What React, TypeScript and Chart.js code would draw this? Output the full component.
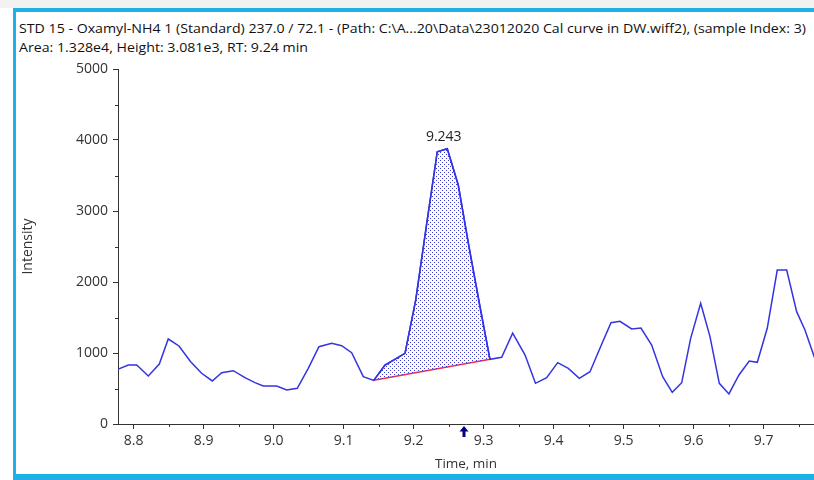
import React, { useEffect, useRef } from "react";
import { Chart, registerables } from "chart.js";

Chart.register(...registerables);

const headerLine1 =
  "STD 15 - Oxamyl-NH4 1 (Standard) 237.0 / 72.1 - (Path: C:\\A...20\\Data\\23012020 Cal curve in DW.wiff2), (sample Index: 3)";
const headerLine2 = "Area: 1.328e4, Height: 3.081e3, RT: 9.24 min";

const timeMin = [
  8.776, 8.7923, 8.8043, 8.8209, 8.8366, 8.8494, 8.8647, 8.8814, 8.8971, 8.9123,
  8.9257, 8.9423, 8.959, 8.9733, 8.9851, 9.0043, 9.0186, 9.0337, 9.0494, 9.0647,
  9.0829, 9.0971, 9.1114, 9.128, 9.143, 9.159, 9.173, 9.1876, 9.2029, 9.218,
  9.2337, 9.248, 9.2637, 9.279, 9.2943, 9.309, 9.3257, 9.3414, 9.359, 9.374,
  9.39, 9.4057, 9.4209, 9.4366, 9.4519, 9.4661, 9.4819, 9.4947, 9.5114, 9.5247,
  9.54, 9.5557, 9.5694, 9.5829, 9.5957, 9.61, 9.6233, 9.6366, 9.6504, 9.6647,
  9.6794, 9.6909, 9.7051, 9.7194, 9.7329, 9.7471, 9.759, 9.7728, 9.787,
];
const intensity = [
  765, 831, 831, 676, 845, 1197, 1099, 878, 714, 606,
  723, 751, 652, 582, 535, 535, 479, 502, 784, 1089,
  1136, 1103, 1005, 667, 615, 831, 911, 996, 1746, 2779,
  3835, 3877, 3366, 2497, 1676, 911, 939, 1280, 975, 573,
  652, 864, 784, 643, 737, 1066, 1427, 1446, 1338, 1352,
  1113, 667, 446, 582, 1207, 1700, 1230, 573, 423, 690,
  887, 869, 1348, 2169, 2169, 1582, 1324, 930, 700,
];

const peakStart = 9.143;
const peakEnd = 9.309;
const baselineTimes = [9.143, 9.309];
const baselineValues = [615, 911];
const peakLabel = "9.243";
const peakLabelTime = 9.243;
const peakApexValue = 3877;
const expectedRT = 9.2718;

const xMin = 8.7776;
const xMax = 9.7719;
const xTicksMajor = [8.8, 8.9, 9.0, 9.1, 9.2, 9.3, 9.4, 9.5, 9.6, 9.7];
const xTicksMinor = [8.85, 8.95, 9.05, 9.15, 9.25, 9.35, 9.45, 9.55, 9.65, 9.75];
const yTicksMajor = [0, 1000, 2000, 3000, 4000, 5000];
const yTicksMinor = [500, 1500, 2500, 3500, 4500];

const FONT = "'Open Sans', 'Noto Sans', sans-serif";
const CYAN = "#1fb1e6";
const TRACE = "#3434e0";
const AXIS = "#333333";

export default function App() {
  const ref = useRef<HTMLCanvasElement | null>(null);

  useEffect(() => {
    if (!ref.current) return;

    const pc = document.createElement("canvas");
    pc.width = 4;
    pc.height = 4;
    const pctx = pc.getContext("2d")!;
    pctx.fillStyle = "#3a3ad8";
    pctx.fillRect(0, 0, 1, 1);
    pctx.fillRect(2, 2, 1, 1);
    const pattern = pctx.createPattern(pc, "repeat");

    const trace = timeMin.map((t, i) => ({ x: t, y: intensity[i] }));
    const peak = trace.filter((p) => p.x >= peakStart - 1e-6 && p.x <= peakEnd + 1e-6);
    const baseline = baselineTimes.map((t, i) => ({ x: t, y: baselineValues[i] }));

    const extras = {
      id: "extras",
      afterDraw(chart: any) {
        const { ctx } = chart;
        const x = chart.scales.x;
        const y = chart.scales.y;
        ctx.save();
        ctx.strokeStyle = AXIS;
        ctx.lineWidth = 1;
        yTicksMinor.forEach((v) => {
          const py = Math.round(y.getPixelForValue(v)) + 0.5;
          ctx.beginPath();
          ctx.moveTo(x.left - 3, py);
          ctx.lineTo(x.left, py);
          ctx.stroke();
        });
        xTicksMinor.forEach((v) => {
          const px = Math.round(x.getPixelForValue(v)) + 0.5;
          ctx.beginPath();
          ctx.moveTo(px, y.bottom);
          ctx.lineTo(px, y.bottom + 3);
          ctx.stroke();
        });
        // peak label
        ctx.fillStyle = "#222";
        ctx.font = `14px ${FONT}`;
        ctx.textAlign = "center";
        ctx.textBaseline = "middle";
        ctx.fillText(
          peakLabel,
          x.getPixelForValue(peakLabelTime),
          y.getPixelForValue(peakApexValue) - 12
        );
        // expected RT arrow
        const ax = Math.round(x.getPixelForValue(expectedRT));
        const by = y.bottom;
        ctx.fillStyle = "#000080";
        ctx.beginPath();
        ctx.moveTo(ax, by + 2);
        ctx.lineTo(ax + 4.5, by + 7.5);
        ctx.lineTo(ax - 4.5, by + 7.5);
        ctx.closePath();
        ctx.fill();
        ctx.fillRect(ax - 1.5, by + 7, 3, 6);
        ctx.restore();
      },
    };

    const chart = new Chart(ref.current, {
      type: "line",
      data: {
        datasets: [
          {
            data: trace,
            borderColor: TRACE,
            borderWidth: 1.5,
            pointRadius: 0,
            fill: false,
            tension: 0,
          },
          {
            data: peak,
            borderColor: TRACE,
            borderWidth: 1.5,
            pointRadius: 0,
            backgroundColor: pattern as any,
            fill: "+1",
            tension: 0,
          },
          {
            data: baseline,
            borderColor: "#ff2a2a",
            borderWidth: 1.5,
            pointRadius: 0,
            fill: false,
          },
        ],
      },
      options: {
        animation: false,
        responsive: false,
        devicePixelRatio: 1,
        events: [],
        layout: { padding: { top: 57, left: 0, right: 0, bottom: 0 } },
        plugins: {
          legend: { display: false },
          tooltip: { enabled: false },
        },
        scales: {
          x: {
            type: "linear",
            min: xMin,
            max: xMax,
            afterFit: (s: any) => {
              s.height = 50;
            },
            afterBuildTicks: (s: any) => {
              s.ticks = xTicksMajor.map((v) => ({ value: v }));
            },
            ticks: {
              includeBounds: false,
              autoSkip: false,
              maxRotation: 0,
              padding: 4,
              color: "#333",
              font: { family: FONT, size: 14 },
              callback: (v: any) => Number(v).toFixed(1),
            },
            grid: {
              drawOnChartArea: false,
              drawTicks: true,
              tickLength: 5,
              tickColor: AXIS,
            },
            border: { color: AXIS, width: 1 },
            title: {
              display: true,
              text: "Time, min",
              color: "#333",
              font: { family: FONT, size: 13.5 },
              padding: { top: 0, bottom: 2 },
            },
          },
          y: {
            type: "linear",
            min: 0,
            max: 5000,
            afterFit: (s: any) => {
              s.width = 102;
            },
            afterBuildTicks: (s: any) => {
              s.ticks = yTicksMajor.map((v) => ({ value: v }));
            },
            ticks: {
              autoSkip: false,
              padding: 5,
              color: "#333",
              font: { family: FONT, size: 14 },
              callback: (v: any) => String(v),
            },
            grid: {
              drawOnChartArea: false,
              drawTicks: true,
              tickLength: 5,
              tickColor: AXIS,
            },
            border: { color: AXIS, width: 1 },
            title: {
              display: true,
              text: "Intensity",
              color: "#333",
              font: { family: FONT, size: 14 },
              padding: { top: 4, bottom: 4 },
            },
          },
        },
      },
      plugins: [extras],
    });

    return () => chart.destroy();
  }, []);

  const headerStyle: React.CSSProperties = {
    position: "absolute",
    left: 19,
    fontSize: 13,
    lineHeight: "16px",
    color: "#111",
    whiteSpace: "nowrap",
    transform: "scaleX(1.09)",
    transformOrigin: "0 0",
  };

  return (
    <div
      style={{
        position: "absolute",
        left: 0,
        top: 0,
        width: 814,
        height: 480,
        overflow: "hidden",
        background: "#ffffff",
        fontFamily: FONT,
      }}
    >
      <div style={{ position: "absolute", left: 0, top: 0, width: 814, height: 8, background: "#f2f2f2" }} />
      <div style={{ position: "absolute", left: 13, top: 8, width: 801, height: 4, background: CYAN }} />
      <div style={{ position: "absolute", left: 13, top: 8, width: 3, height: 472, background: CYAN }} />
      <div style={{ position: "absolute", left: 13, top: 474, width: 801, height: 6, background: CYAN }} />
      <div style={{ ...headerStyle, top: 20 }}>{headerLine1}</div>
      <div style={{ ...headerStyle, top: 39 }}>{headerLine2}</div>
      <canvas
        ref={ref}
        width={798}
        height={462}
        style={{ position: "absolute", left: 16, top: 12, display: "block" }}
      />
    </div>
  );
}
